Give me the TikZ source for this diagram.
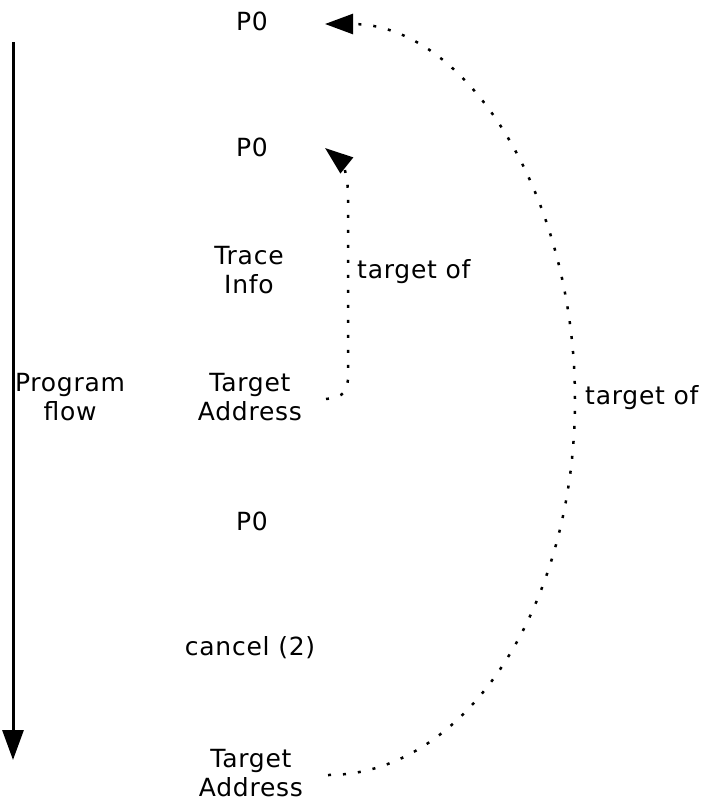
\documentclass[tikz,border=0pt]{standalone}
\usepackage{fontspec}
\setmainfont{DejaVu Sans}[LetterSpace=3]
\usetikzlibrary{arrows.meta}
\tikzset{
  lbl/.style={font=\fontsize{25}{29}\selectfont, align=center, inner sep=0pt},
  dotline/.style={line width=2.5pt, dash pattern=on 3pt off 12pt},
  tipA/.style={-{Triangle[length=28pt,width=20pt]}},
}
\begin{document}
\begin{tikzpicture}[x=1pt,y=-1pt]
\useasboundingbox (0,0) rectangle (724,801);
% labels
\node[lbl] (p0a) at (252,21) {P0};
\node[lbl] (p0b) at (252,147) {P0};
\node[lbl] (trace) at (249,270) {Trace\\Info};
\node[lbl] (ta1) at (250,397) {Target\\Address};
\node[lbl] (prog) at (70,397) {Program\\flow};
\node[lbl] (p0c) at (252,521) {P0};
\node[lbl] (cancel) at (250,648) {cancel (2)};
\node[lbl] (ta2) at (251,773) {Target\\Address};
\node[lbl, anchor=west] (tof1) at (357,272) {target of};
\node[lbl, anchor=west] (tof2) at (585,398) {target of};
% program flow arrow
\coordinate (fs) at (13,42);
\coordinate (fe) at (13,760);
\draw[line width=3pt, -{Triangle[length=30pt,width=21pt]}] (fs) -- (fe);
% inner dotted connector
\coordinate (i0) at (326,399);
\coordinate (i1) at (325,148);
\draw[dotline, tipA] (i0) .. controls (344,397) and (348,392) .. (348,375)
  -- (348,195) .. controls (348,172) and (340,160) .. (i1);
% outer dotted connector
\coordinate (o0) at (328,775);
\coordinate (o1) at (325,24);
\draw[dotline, tipA] (o0) .. controls (465,775) and (575,607) .. (575,400)
  .. controls (575,193) and (465,24) .. (o1);
\end{tikzpicture}
\end{document}
